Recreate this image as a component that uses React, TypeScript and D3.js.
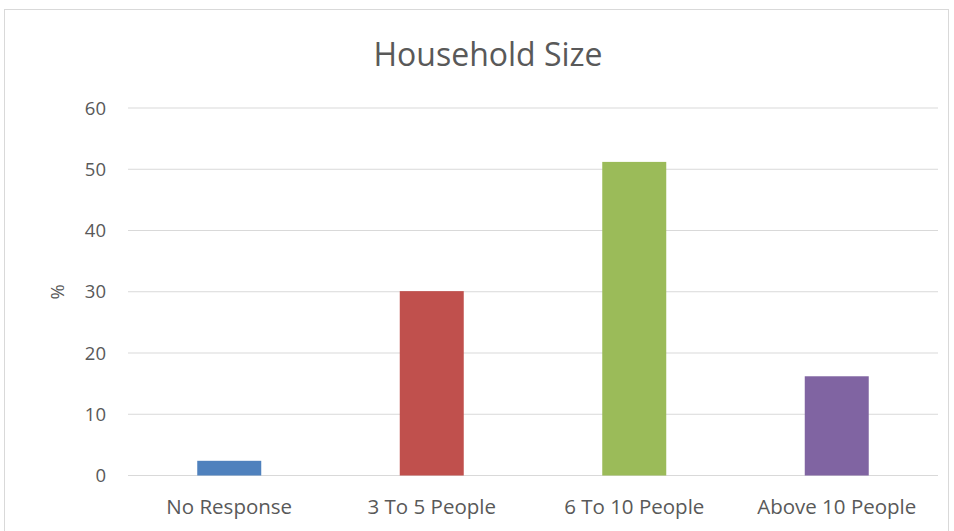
import { useEffect, useRef } from 'react';
import * as d3 from 'd3';

const categories = ['No Response', '3 To 5 People', '6 To 10 People', 'Above 10 People'];
const values = [2.4, 30.1, 51.2, 16.2];
const colors = ['#4f81bd', '#c0504d', '#9bbb59', '#8064a2'];
const yTicks = [0, 10, 20, 30, 40, 50, 60];

export default function App() {
  const ref = useRef<SVGSVGElement>(null);

  useEffect(() => {
    if (!ref.current) return;
    const svg = d3.select(ref.current);
    svg.selectAll('*').remove();

    const left = 128;
    const right = 938;
    const top = 108;
    const bottom = 475.5;
    const font = '"Open Sans", sans-serif';

    // chart frame
    svg.append('rect')
      .attr('x', 4.5)
      .attr('y', 9.5)
      .attr('width', 944)
      .attr('height', 530)
      .attr('fill', '#fff')
      .attr('stroke', '#d9d9d9')
      .attr('stroke-width', 1);

    const x = d3.scaleBand<string>()
      .domain(categories)
      .range([left, right])
      .paddingInner(0.684)
      .paddingOuter(0.342);

    const y = d3.scaleLinear().domain([0, 60]).range([bottom, top]);

    // gridlines
    svg.append('g')
      .selectAll('line')
      .data(yTicks)
      .enter()
      .append('line')
      .attr('x1', left)
      .attr('x2', right)
      .attr('y1', d => y(d))
      .attr('y2', d => y(d))
      .attr('stroke', '#d9d9d9')
      .attr('stroke-width', 1.2);

    // bars
    svg.append('g')
      .selectAll('rect')
      .data(values)
      .enter()
      .append('rect')
      .attr('x', (_, i) => x(categories[i])!)
      .attr('width', x.bandwidth())
      .attr('y', d => y(d))
      .attr('height', d => bottom - y(d))
      .attr('fill', (_, i) => colors[i]);

    // y tick labels
    svg.append('g')
      .selectAll('text')
      .data(yTicks)
      .enter()
      .append('text')
      .attr('x', 106)
      .attr('y', d => y(d))
      .attr('dy', '0.36em')
      .attr('text-anchor', 'end')
      .attr('fill', '#595959')
      .attr('font-size', '18.5px')
      .attr('font-family', font)
      .text(d => d);

    // category labels
    svg.append('g')
      .selectAll('text')
      .data(categories)
      .enter()
      .append('text')
      .attr('x', d => x(d)! + x.bandwidth() / 2)
      .attr('y', 514)
      .attr('text-anchor', 'middle')
      .attr('fill', '#595959')
      .attr('font-size', '20.5px')
      .attr('font-family', font)
      .text(d => d);

    // y axis title
    svg.append('text')
      .attr('transform', `translate(64, ${(top + bottom) / 2}) rotate(-90)`)
      .attr('text-anchor', 'middle')
      .attr('fill', '#595959')
      .attr('font-size', '18.5px')
      .attr('font-family', font)
      .text('%');

    // title
    svg.append('text')
      .attr('x', 488)
      .attr('y', 66)
      .attr('text-anchor', 'middle')
      .attr('fill', '#595959')
      .attr('font-size', '32px')
      .attr('font-family', font)
      .text('Household Size');
  }, []);

  return (
    <svg
      ref={ref}
      width={954}
      height={531}
      style={{ position: 'absolute', left: 0, top: 0, display: 'block' }}
    />
  );
}
